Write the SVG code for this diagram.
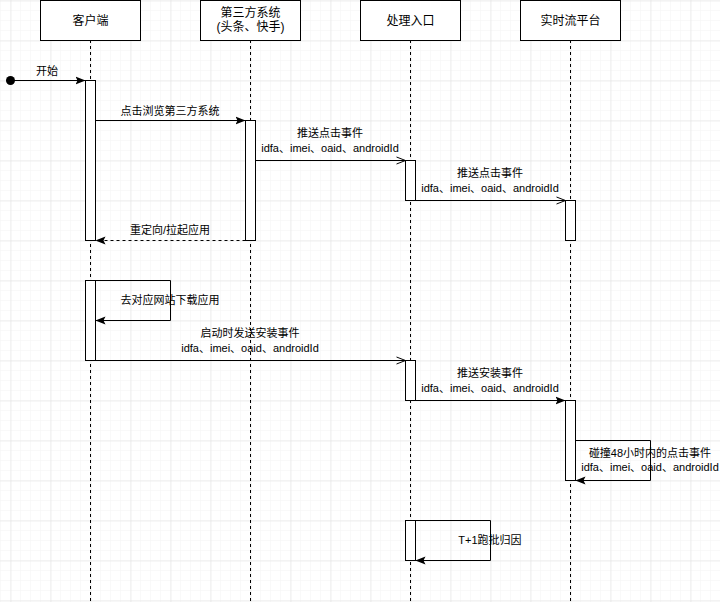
<svg xmlns="http://www.w3.org/2000/svg" width="720" height="602" viewBox="0 0 720 602">
<defs>
<pattern id="minor" width="10" height="10" patternUnits="userSpaceOnUse" x="0" y="0">
<path d="M0 0H10M0 0V10" fill="none" stroke="#f3f3f3" stroke-width="1"/>
</pattern>
<pattern id="major" width="40" height="40" patternUnits="userSpaceOnUse" x="10.5" y="0.5">
<path d="M0 0H40M0 0V40" fill="none" stroke="#e0e0e0" stroke-width="1"/>
</pattern>
<marker id="filled" viewBox="0 0 10 10" refX="10" refY="5" markerWidth="10" markerHeight="10" markerUnits="userSpaceOnUse" orient="auto">
<path d="M0 1 L10 5 L0 9 L2 5 Z" fill="#000"/>
</marker>
<marker id="open" viewBox="0 0 10 10" refX="10" refY="5" markerWidth="10" markerHeight="10" markerUnits="userSpaceOnUse" orient="auto">
<path d="M1 1.5 L10 5 L1 8.5" fill="none" stroke="#000" stroke-width="1"/>
</marker>
</defs>
<style>
.box{fill:#fff;stroke:#000;stroke-width:1}
.life{stroke:#000;stroke-width:1;stroke-dasharray:3 3;fill:none}
.act{fill:#fff;stroke:#000;stroke-width:1}
.msg{fill:none;stroke:#000;stroke-width:1}
.t{font-family:"Liberation Sans","Noto Sans CJK SC",sans-serif;font-size:11px;fill:#000;text-anchor:middle}
.h{font-family:"Liberation Sans","Noto Sans CJK SC",sans-serif;font-size:12px;fill:#000;text-anchor:middle}
</style>
<rect width="720" height="602" fill="#fff"/>
<rect width="720" height="602" fill="url(#minor)"/>
<rect width="720" height="602" fill="url(#major)"/>

<g id="lifelines">
<path class="life" d="M90.5 40V602M250.5 40V602M410.5 40V602M570.5 40V602"/>
</g>

<g id="node-client">
<rect class="box" x="40.5" y="0.5" width="100" height="40"/>
<text class="h" x="90.5" y="24.5">客户端</text>
</g>
<g id="node-third">
<rect class="box" x="200.5" y="0.5" width="100" height="40"/>
<text class="h" x="250.5" y="17">第三方系统</text>
<text class="h" x="250.5" y="31">(头条、快手)</text>
</g>
<g id="node-entry">
<rect class="box" x="360.5" y="0.5" width="100" height="40"/>
<text class="h" x="410.5" y="24.5">处理入口</text>
</g>
<g id="node-stream">
<rect class="box" x="520.5" y="0.5" width="100" height="40"/>
<text class="h" x="570.5" y="24.5">实时流平台</text>
</g>

<g id="activations">
<rect class="act" x="85.5" y="80.5" width="10" height="160"/>
<rect class="act" x="245.5" y="120.5" width="10" height="120"/>
<rect class="act" x="405.5" y="160.5" width="10" height="40"/>
<rect class="act" x="565.5" y="200.5" width="10" height="40"/>
<rect class="act" x="85.5" y="280.5" width="10" height="80"/>
<rect class="act" x="405.5" y="360.5" width="10" height="40"/>
<rect class="act" x="565.5" y="400.5" width="10" height="80"/>
<rect class="act" x="405.5" y="520.5" width="10" height="40"/>
</g>

<g id="connectors">
<circle cx="10.5" cy="80.5" r="4.5" fill="#000"/>
<path class="msg" d="M10.5 80.5H85.5" marker-end="url(#filled)"/>
<path class="msg" d="M95.5 120.5H245.5" marker-end="url(#filled)"/>
<path class="msg" d="M255.5 160.5H405.5" marker-end="url(#open)"/>
<path class="msg" d="M415.5 200.5H565.5" marker-end="url(#open)"/>
<path class="msg" d="M245.5 240.5H95.5" stroke-dasharray="3 3" marker-end="url(#filled)"/>
<path class="msg" d="M95.5 280.5H170.5V320.5H95.5" marker-end="url(#filled)"/>
<path class="msg" d="M95.5 360.5H405.5" marker-end="url(#open)"/>
<path class="msg" d="M415.5 400.5H565.5" marker-end="url(#filled)"/>
<path class="msg" d="M575.5 440.5H650.5V480.5H575.5" marker-end="url(#filled)"/>
<path class="msg" d="M415.5 520.5H490.5V560.5H415.5" marker-end="url(#filled)"/>
</g>

<g id="labels">
<text class="t" x="47" y="75">开始</text>
<text class="t" x="170" y="115">点击浏览第三方系统</text>
<text class="t" x="330" y="137">推送点击事件</text>
<text class="t" x="330" y="152">idfa、imei、oaid、androidId</text>
<text class="t" x="490" y="177">推送点击事件</text>
<text class="t" x="490" y="192">idfa、imei、oaid、androidId</text>
<text class="t" x="170" y="234">重定向/拉起应用</text>
<text class="t" x="170" y="304">去对应网站下载应用</text>
<text class="t" x="250" y="337">启动时发送安装事件</text>
<text class="t" x="250" y="352">idfa、imei、oaid、androidId</text>
<text class="t" x="490" y="377">推送安装事件</text>
<text class="t" x="490" y="392">idfa、imei、oaid、androidId</text>
<text class="t" x="650" y="457">碰撞48小时内的点击事件</text>
<text class="t" x="650" y="471">idfa、imei、oaid、androidId</text>
<text class="t" x="490" y="544">T+1跑批归因</text>
</g>
</svg>
